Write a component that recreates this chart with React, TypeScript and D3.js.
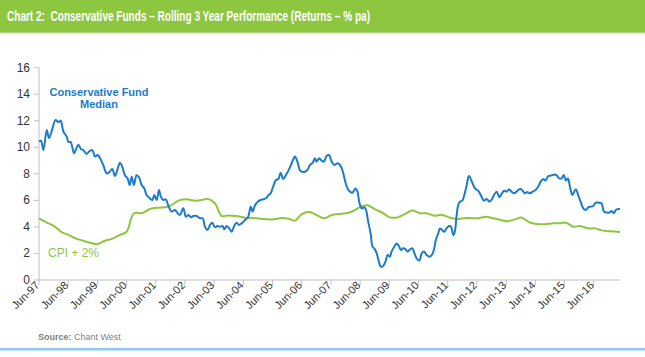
import React from "react";
import * as d3 from "d3";

const tickLabels = ["Jun-97","Jun-98","Jun-99","Jun-00","Jun-01","Jun-02","Jun-03","Jun-04","Jun-05","Jun-06","Jun-07","Jun-08","Jun-09","Jun-10","Jun-11","Jun-12","Jun-13","Jun-14","Jun-15","Jun-16"];
const yTicks = [0, 2, 4, 6, 8, 10, 12, 14, 16];

// months since Jun-97
const fundMonths = [0,0.8,1.8,3.2,4.1,5.2,6.8,7.9,8.9,10.0,11.4,12.1,13.0,14.4,15.1,16.2,17.3,18.2,19.6,20.5,21.6,22.3,23.0,24.1,25.1,26.4,27.8,28.8,30.1,31.2,32.2,33.3,34.2,35.3,36.4,37.3,38.1,39.0,40.1,41.1,42.2,43.3,44.2,45.6,46.6,47.4,48.4,49.3,50.1,51.1,52.1,53.2,54.5,55.9,57.0,57.9,
59.3,60.4,61.4,62.5,63.4,64.8,66.2,67.3,68.2,69.2,70.3,71.2,72.3,73.3,74.4,75.4,76.2,77.1,78.1,79.2,80.1,81.2,82.2,83.3,84.7,86.0,87.0,87.8,88.8,89.9,91.1,92.2,93.3,94.3,95.2,96.3,97.4,98.4,99.3,100.4,101.5,102.5,103.6,104.5,105.2,106.2,107.3,108.2,109.3,110.3,111.4,112.5,113.4,114.1,115.2,116.2,117.1,118.2,119.2,
120.3,121.4,122.6,123.7,124.7,125.7,126.8,127.8,128.8,130.1,130.9,131.6,132.6,133.7,134.4,135.3,136.3,137.1,138.1,138.8,139.7,140.5,141.5,142.5,143.3,144.2,144.9,146.0,147.0,147.9,148.8,149.7,150.7,151.5,152.5,153.4,154.2,155.2,156.3,157.3,158.2,159.3,160.4,161.4,162.3,163.1,164.1,164.8,165.7,166.6,167.5,168.5,169.3,170.3,170.9,171.6,172.3,173.0,174.0,174.8,175.8,176.7,
178.2,179.2,180.5,181.9,182.9,184.0,185.1,186.0,187.0,188.1,189.2,190.1,191.2,192.2,193.3,194.2,195.3,196.3,197.7,198.6,199.7,200.7,201.8,202.9,204.1,205.2,206.2,207.3,208.2,209.3,210.4,211.6,212.7,213.8,214.8,215.7,216.6,217.4,218.2,219.2,220.0,220.7,221.6,222.6,223.7,224.7,225.8,226.7,227.8,228.8,229.9,231.2,232.2,233.3,234.4,235.3,236.3,237.1,238.1,238.8];
const fundValues = [10.43,10.5,9.8,11.3,10.7,11.2,12.06,11.9,12.0,11.2,10.8,10.4,10.4,9.55,9.8,10.2,9.85,9.8,9.5,9.67,9.8,9.67,9.3,9.42,9.17,8.67,8.04,8.1,8.37,7.84,8.3,8.84,8.54,7.9,7.66,7.16,7.79,7.16,7.9,7.74,7.16,6.9,6.4,6.15,6.03,6.4,6.03,6.78,6.28,6.03,6.08,5.58,5.15,5.28,5.03,4.9,
5.4,4.77,4.9,4.72,4.82,4.82,4.65,4.65,4.02,3.77,4.15,4.32,3.97,4.07,4.02,4.07,3.82,4.07,3.9,3.64,4.02,4.32,4.15,4.27,4.52,4.77,5.53,5.15,5.65,5.9,6.03,6.08,6.16,6.4,6.53,7.08,7.54,7.61,8.09,7.61,7.91,8.24,8.67,9.1,9.3,8.92,8.24,8.16,8.16,8.29,8.67,8.84,9.17,8.92,9.17,9.0,8.92,9.35,9.42,
8.92,8.67,8.79,8.67,8.29,7.54,6.9,6.66,6.58,6.9,6.66,5.9,5.4,5.48,5.28,4.4,3.52,2.51,2.31,2.01,1.38,1.0,1.06,1.43,1.88,1.76,2.14,2.51,2.76,2.56,2.26,2.39,2.31,2.14,2.31,2.39,2.06,1.63,1.46,2.01,2.14,1.88,1.76,1.88,2.26,3.02,3.52,3.89,3.77,3.64,3.89,4.07,4.02,3.39,3.64,4.77,5.65,5.9,5.98,6.4,7.16,7.84,
7.29,6.9,6.73,6.28,5.98,6.1,5.9,6.03,6.4,6.66,6.23,6.48,6.73,6.66,6.83,6.66,6.53,6.66,6.86,6.78,6.53,6.63,6.53,6.66,6.78,7.04,7.41,7.61,7.49,7.84,7.86,7.94,7.91,7.66,7.66,7.91,7.49,7.66,7.04,6.4,6.66,6.83,6.4,5.9,5.4,5.28,5.48,5.53,5.58,5.83,5.83,5.78,5.15,5.08,5.08,5.2,5.03,5.28,5.35,5.33];

const cpiMonths = [0,3.2,5.9,9.3,12.1,15.5,18.2,21.0,24.0,27.1,29.9,33.3,36.0,39.0,42.2,45.6,49.0,51.8,54.5,57.3,60.7,64.1,66.9,69.2,72.3,75.1,77.8,81.2,84.7,89.5,92.9,96.3,99.7,102.5,105.2,108.0,111.1,114.1,117.1,120.3,123.0,126.4,129.2,132.3,135.1,138.1,141.5,144.2,147.4,150.4,153.4,156.6,159.3,162.5,165.5,168.5,171.6,175.1,177.1,180.5,183.6,186.7,189.7,192.6,195.6,198.4,201.5,204.5,207.9,211.4,214.1,216.6,219.6,222.3,225.8,228.5,231.2,234.7,238.8];
const cpiValues = [4.65,4.32,4.1,3.6,3.4,3.1,2.96,2.81,2.71,2.96,3.1,3.4,3.64,5.03,5.03,5.35,5.45,5.48,5.65,5.98,6.08,5.98,6.03,6.13,5.78,4.82,4.87,4.82,4.7,4.65,4.6,4.57,4.67,4.62,4.47,4.97,5.13,4.9,4.65,4.9,4.97,5.03,5.2,5.53,5.63,5.33,5.03,4.72,4.72,4.97,5.23,5.03,5.03,4.85,4.92,4.72,4.6,4.67,4.67,4.65,4.77,4.65,4.52,4.42,4.57,4.7,4.35,4.22,4.2,4.27,4.27,4.32,4.02,4.07,3.89,3.89,3.74,3.67,3.62];

const W = 645, H = 357;
const BLUE = "#1C7CCB";
const GREEN = "#8DC63F";
const AXIS = "#BFBFBF";
const TEXT = "#333333";
const FONT = "'Liberation Sans', Arial, sans-serif";

export default function App() {
  const x = d3.scaleLinear().domain([0, 238.8]).range([39, 620]);
  const y = d3.scaleLinear().domain([0, 16]).range([280, 67.7]);
  const line = d3.line<[number, number]>().x(d => x(d[0])).y(d => y(d[1])).curve(d3.curveCatmullRom.alpha(0.5));
  const fund: [number, number][] = fundMonths.map((m, i) => [m, fundValues[i]]);
  const cpi: [number, number][] = cpiMonths.map((m, i) => [m, cpiValues[i]]);

  return (
    <svg width={W} height={H} style={{ position: "absolute", left: 0, top: 0, background: "#fff" }}>
      <rect x={0} y={0} width={W} height={32} fill={GREEN} />
      <rect x={0} y={32} width={W} height={1.5} fill="#B3DA80" />
      <text x={7} y={21} fill="#fff" xmlSpace="preserve" style={{ whiteSpace: "pre" }} fontFamily="'Liberation Sans Narrow', 'Arial Narrow', sans-serif" fontWeight="bold" fontSize={14} textLength={363} lengthAdjust="spacingAndGlyphs">
        {"Chart 2:  Conservative Funds – Rolling 3 Year Performance (Returns – % pa)"}
      </text>

      {/* y axis */}
      <line x1={39} x2={39} y1={y(16)} y2={y(0)} stroke={AXIS} strokeWidth={1} />
      {yTicks.map(t => (
        <g key={t}>
          <line x1={34} x2={39} y1={y(t)} y2={y(t)} stroke={AXIS} />
          <text x={30} y={y(t) + 4} textAnchor="end" fontFamily={FONT} fontSize={12} fill={TEXT}>{t}</text>
        </g>
      ))}

      {/* x axis */}
      <line x1={39} x2={620} y1={y(0)} y2={y(0)} stroke={AXIS} strokeWidth={1} />
      {tickLabels.map((lab, i) => (
        <g key={lab}>
          <line x1={x(i * 12)} x2={x(i * 12)} y1={y(0)} y2={y(0) + 5} stroke={AXIS} />
          <text transform={`translate(${x(i * 12) + 1},${y(0) + 6}) rotate(-45)`} textAnchor="end" fontFamily={FONT} fontSize={11} fill={TEXT}>{lab}</text>
        </g>
      ))}

      <path d={line(cpi) || ""} fill="none" stroke={GREEN} strokeWidth={2} />
      <path d={line(fund) || ""} fill="none" stroke={BLUE} strokeWidth={2} />

      <text x={99} y={96} textAnchor="middle" fontFamily={FONT} fontSize={11} fontWeight="bold" fill={BLUE}>Conservative Fund</text>
      <text x={99} y={107.5} textAnchor="middle" fontFamily={FONT} fontSize={11} fontWeight="bold" fill={BLUE}>Median</text>
      <text x={48} y={257} fontFamily={FONT} fontSize={12} fill={GREEN}>CPI + 2%</text>

      <text x={38} y={340} fontFamily={FONT} fontSize={9} fill="#7F7F7F"><tspan fontWeight="bold">Source:</tspan> Chant West</text>
      <rect x={0} y={348} width={W} height={2.5} fill="#8CC8EE" />
    </svg>
  );
}
